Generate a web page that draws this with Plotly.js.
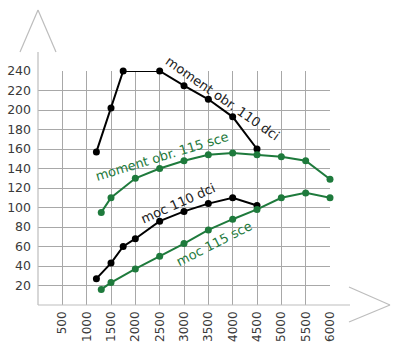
<!DOCTYPE html>
<html><head><meta charset="utf-8">
<script src="https://cdn.plot.ly/plotly-3.0.1.min.js"></script>
<style>html,body{margin:0;padding:0;background:#fff}#chart{width:400px;height:356px}</style>
</head><body><div id="chart"></div>
<script>
// Data
const momentDciX = [1200, 1500, 1750, 2500, 3000, 3500, 4000, 4500];
const momentDciY = [157, 202, 240, 240, 225, 211, 193, 160];
const momentSceX = [1300, 1500, 2000, 2500, 3000, 3500, 4000, 4500, 5000, 5500, 6000];
const momentSceY = [95, 110, 130, 140, 148, 154, 156, 154, 152, 148, 129];
const mocDciX = [1200, 1500, 1750, 2000, 2500, 3000, 3500, 4000, 4500];
const mocDciY = [27, 43, 60, 68, 86, 96, 104, 110, 102];
const mocSceX = [1300, 1500, 2000, 2500, 3000, 3500, 4000, 4500, 5000, 5500, 6000];
const mocSceY = [16, 23, 37, 50, 63, 77, 88, 98, 110, 115, 110];
const xTicks = [500, 1000, 1500, 2000, 2500, 3000, 3500, 4000, 4500, 5000, 5500, 6000];
const yTicks = [20, 40, 60, 80, 100, 120, 140, 160, 180, 200, 220, 240];
const labels = ["moment obr. 110 dci", "moment obr. 115 sce", "moc 110 dci", "moc 115 sce"];

const BLACK = '#000000', GREEN = '#1e7a3c';
const FONT = '"DejaVu Sans", sans-serif';

function tr(x, y, c) {
  return {x: x, y: y, type: 'scatter', mode: 'lines+markers',
    line: {color: c, width: 2}, marker: {color: c, size: 7},
    hoverinfo: 'skip', showlegend: false, cliponaxis: false};
}
const data = [tr(momentDciX, momentDciY, BLACK), tr(momentSceX, momentSceY, GREEN),
              tr(mocDciX, mocDciY, BLACK), tr(mocSceX, mocSceY, GREEN)];

const AX = '#bdbdbd';
function ln(x0, y0, x1, y1) {
  return {type: 'line', xref: 'paper', yref: 'paper', x0: x0, y0: y0, x1: x1, y1: y1,
    line: {color: AX, width: 1.2}, layer: 'above'};
}
const layout = {
  width: 400, height: 356,
  margin: {l: 38, r: 70, t: 71, b: 51},
  paper_bgcolor: '#fff', plot_bgcolor: '#fff',
  font: {family: FONT, color: '#333', size: 12},
  xaxis: {range: [0, 6000], tickvals: xTicks, ticktext: xTicks.map(String),
    tickangle: -90, showgrid: true, gridcolor: '#a8a8a8', gridwidth: 1,
    zeroline: false, showline: false, ticks: '', ticklabelstandoff: 3,
    tickfont: {family: FONT, size: 12, color: '#3a3a3a'}},
  yaxis: {range: [0, 240], tickvals: yTicks, ticktext: yTicks.map(String),
    showgrid: true, gridcolor: '#a8a8a8', gridwidth: 1,
    zeroline: false, showline: false, ticks: '', ticklabelstandoff: 6,
    tickfont: {family: FONT, size: 12.5, color: '#3a3a3a'}},
  shapes: [
    ln(0, 0, 1.0685, 0),
    ln(0, 0, 0, 1.081),
    ln(-0.0616, 1.081, 0, 1.2607),
    ln(0, 1.2607, 0.0616, 1.081),
    ln(1.065, 0.0769, 1.2055, 0),
    ln(1.2055, 0, 1.065, -0.0726)
  ],
  annotations: [
    {x: 3794, y: 212, text: labels[0], textangle: 35, color: '#222'},
    {x: 2540, y: 152, text: labels[1], textangle: -17, color: GREEN},
    {x: 2869, y: 104.6, text: labels[2], textangle: -24, color: '#222'},
    {x: 3630, y: 62.6, text: labels[3], textangle: -27, color: GREEN}
  ].map(a => ({x: a.x, y: a.y, xref: 'x', yref: 'y', text: a.text, textangle: a.textangle,
    showarrow: false, xanchor: 'center', yanchor: 'middle',
    font: {family: FONT, size: 13, color: a.color}}))
};
Plotly.newPlot('chart', data, layout, {displayModeBar: false, staticPlot: true});
</script></body></html>
